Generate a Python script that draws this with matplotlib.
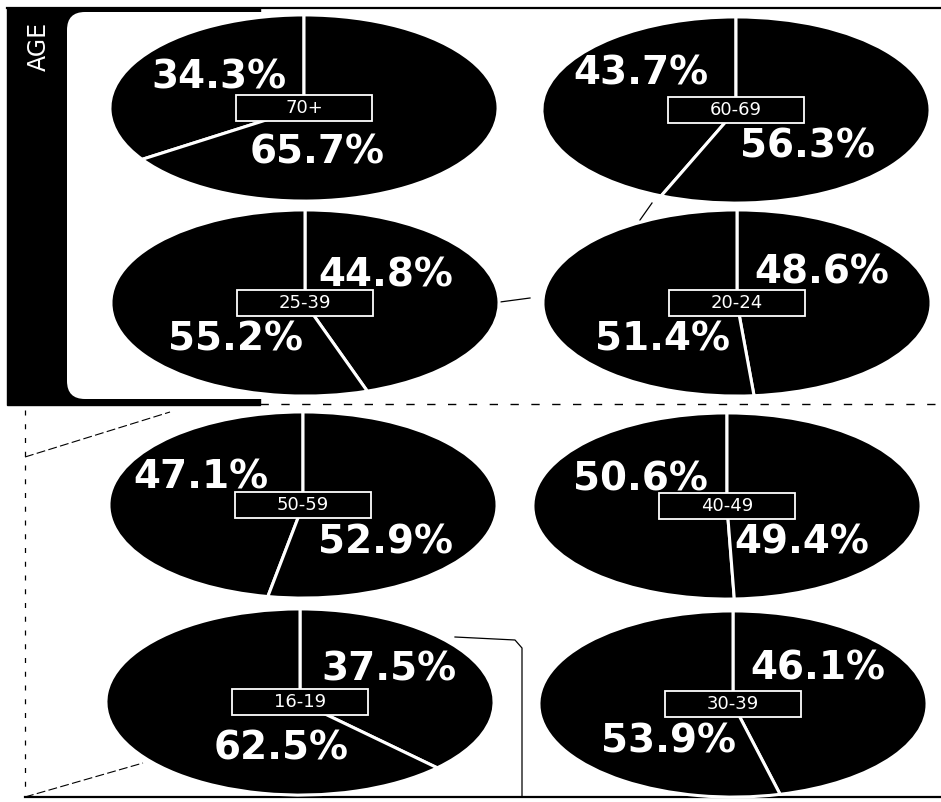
import matplotlib
matplotlib.use("Agg")
import matplotlib.pyplot as plt
from matplotlib.patches import Rectangle, FancyBboxPatch

W, H = 941, 802

# ----------------------------------------------------------------------
# Données : part (%) par tranche d'âge
# ----------------------------------------------------------------------
AGE_GROUPS = ["70+", "60-69", "25-39", "20-24", "50-59", "40-49", "16-19", "30-39"]
FIRST_PCT = [34.3, 43.7, 44.8, 48.6, 47.1, 50.6, 37.5, 46.1]   # part qui démarre à midi
SECOND_PCT = [65.7, 56.3, 55.2, 51.4, 52.9, 49.4, 62.5, 53.9]
FIRST_LEFT = [True, True, False, False, True, True, False, False]

# mise en page (pixels)
CENTERS = [(304, 108), (736, 110), (305, 303), (737, 303),
           (303, 505), (727, 506), (300, 702), (733, 704)]
FIRST_OFF = [(-86, -31), (-96, -37), (82, -28), (86, -31),
             (-103, -28), (-87, -27), (90, -33), (86, -36)]
SECOND_OFF = [(13, 45), (72, 37), (-70, 37), (-75, 37),
              (83, 38), (76, 37), (-19, 47), (-65, 38)]
RX, RY = 196, 94


def draw_frame(ax):
    # barre noire "AGE" + panneau blanc arrondi
    ax.add_patch(Rectangle((7, 8), 253, 397, color="black", zorder=1))
    ax.add_patch(FancyBboxPatch((67, 12), 900, 387,
                                boxstyle="round,pad=0,rounding_size=18",
                                facecolor="white", edgecolor="none", zorder=2))
    ax.text(39, 46, "AGE", color="white", fontsize=17, rotation=90,
            ha="center", va="center", zorder=3)
    # traits du cadre
    ax.plot([7, 941], [8, 8], color="black", lw=1.6, zorder=3)
    ax.plot([260, 941], [404, 404], color="black", lw=1.0, dashes=(6, 9), zorder=3)
    ax.plot([25, 941], [797, 797], color="black", lw=1.6, zorder=3)
    ax.plot([25, 25], [410, 792], color="black", lw=0.9, dashes=(4, 7), zorder=3)
    ax.plot([25, 170], [457, 412], color="black", lw=0.8, dashes=(8, 3), zorder=3)
    ax.plot([25, 143], [797, 763], color="black", lw=0.8, dashes=(8, 3), zorder=3)
    ax.plot([455, 515, 522, 522], [637, 640, 648, 797], color="black", lw=0.9, zorder=3)
    ax.plot([652, 640], [203, 220], color="black", lw=0.9, zorder=3)
    ax.plot([500, 530], [302, 298], color="black", lw=0.9, zorder=3)


def draw_pie(fig, i):
    cx, cy = CENTERS[i]
    ax = fig.add_axes([(cx - RX) / W, 1 - (cy + RY) / H, 2 * RX / W, 2 * RY / H])
    ax.pie([FIRST_PCT[i], SECOND_PCT[i]], startangle=90, counterclock=FIRST_LEFT[i],
           colors=["black", "black"], radius=1.0,
           wedgeprops=dict(edgecolor="white", linewidth=2.2))
    ax.set_aspect("auto")
    ax.set_xlim(-1.01, 1.01)
    ax.set_ylim(-1.01, 1.01)
    ax.axis("off")

    # étiquette centrale
    ax.add_patch(Rectangle((-0.35, -0.135), 0.70, 0.27, facecolor="black",
                           edgecolor="white", linewidth=1.3, zorder=5))
    ax.text(0, 0, AGE_GROUPS[i], color="white", fontsize=13,
            ha="center", va="center", zorder=6)

    for pct, (dx, dy) in ((FIRST_PCT[i], FIRST_OFF[i]), (SECOND_PCT[i], SECOND_OFF[i])):
        ax.text(dx / RX, -dy / RY, f"{pct:.1f}%", color="white", fontsize=28,
                fontweight="bold", ha="center", va="center", zorder=6)


def main():
    fig = plt.figure(figsize=(W / 100, H / 100), dpi=100)
    fig.patch.set_facecolor("white")
    bg = fig.add_axes([0, 0, 1, 1])
    bg.set_xlim(0, W)
    bg.set_ylim(H, 0)
    bg.axis("off")
    draw_frame(bg)

    for i in range(len(AGE_GROUPS)):
        draw_pie(fig, i)

    fig.savefig("out.png", dpi=100)
    plt.close(fig)


if __name__ == "__main__":
    main()
